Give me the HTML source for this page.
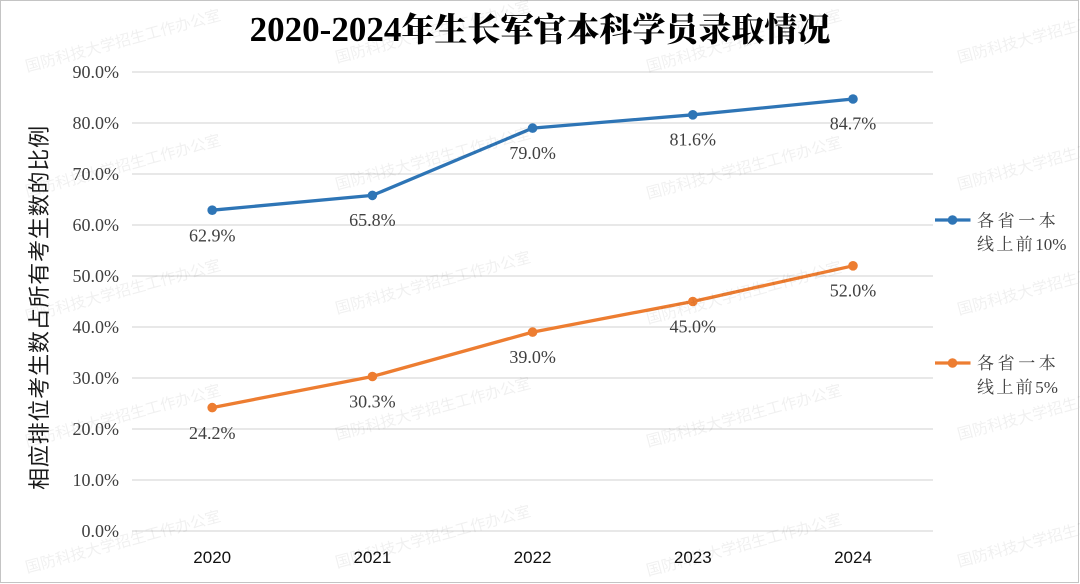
<!DOCTYPE html>
<html>
<head>
<meta charset="utf-8">
<style>
  html, body { margin: 0; padding: 0; background: #ffffff; }
  svg { display: block; }
</style>
</head>
<body>
<svg width="1080" height="584" viewBox="0 0 1080 584" xmlns="http://www.w3.org/2000/svg">
  <rect x="0" y="0" width="1080" height="584" fill="#ffffff"/>
  <rect x="0.5" y="0.5" width="1078" height="582" fill="none" stroke="#c4c4c4" stroke-width="1"/>

  <!-- Title -->
  <text x="540" y="41" text-anchor="middle" font-weight="bold" fill="#000000" font-family="'Liberation Serif', 'Noto Serif CJK SC', serif"><tspan font-size="35">2020-2024</tspan><tspan font-size="33" font-family="'Noto Serif CJK SC', serif" font-weight="900">年生长军官本科学员录取情况</tspan></text>

  <!-- Gridlines -->
  <g stroke="#d9d9d9" stroke-width="1.3">
    <line x1="132" y1="72" x2="933" y2="72"/>
    <line x1="132" y1="123" x2="933" y2="123"/>
    <line x1="132" y1="174" x2="933" y2="174"/>
    <line x1="132" y1="225" x2="933" y2="225"/>
    <line x1="132" y1="276" x2="933" y2="276"/>
    <line x1="132" y1="327" x2="933" y2="327"/>
    <line x1="132" y1="378" x2="933" y2="378"/>
    <line x1="132" y1="429" x2="933" y2="429"/>
    <line x1="132" y1="480" x2="933" y2="480"/>
    <line x1="132" y1="531" x2="933" y2="531"/>
  </g>

  <!-- Y tick labels -->
  <g font-family="'Liberation Serif', 'Noto Serif CJK SC', serif" font-size="18" fill="#404040" text-anchor="end">
    <text x="119" y="78">90.0%</text>
    <text x="119" y="129">80.0%</text>
    <text x="119" y="180">70.0%</text>
    <text x="119" y="231">60.0%</text>
    <text x="119" y="282">50.0%</text>
    <text x="119" y="333">40.0%</text>
    <text x="119" y="384">30.0%</text>
    <text x="119" y="435">20.0%</text>
    <text x="119" y="486">10.0%</text>
    <text x="119" y="537">0.0%</text>
  </g>

  <!-- Y axis title -->
  <text transform="translate(38,307.5) rotate(-90)" text-anchor="middle" dominant-baseline="central" font-family="'Noto Sans CJK SC', 'WenQuanYi Zen Hei', sans-serif" font-size="22" letter-spacing="0.8" fill="#1a1a1a">相应排位考生数占所有考生数的比例</text>

  <!-- X labels -->
  <g font-family="'Liberation Sans', sans-serif" font-size="17" fill="#111111" text-anchor="middle">
    <text x="212.2" y="563">2020</text>
    <text x="372.4" y="563">2021</text>
    <text x="532.6" y="563">2022</text>
    <text x="692.8" y="563">2023</text>
    <text x="853" y="563">2024</text>
  </g>

  <!-- Blue series -->
  <polyline points="212.2,210.2 372.4,195.4 532.6,128.1 692.8,114.8 853,99" fill="none" stroke="#2E75B6" stroke-width="3.3" stroke-linejoin="round" stroke-linecap="round"/>
  <g fill="#2E75B6">
    <circle cx="212.2" cy="210.2" r="4.8"/>
    <circle cx="372.4" cy="195.4" r="4.8"/>
    <circle cx="532.6" cy="128.1" r="4.8"/>
    <circle cx="692.8" cy="114.8" r="4.8"/>
    <circle cx="853" cy="99" r="4.8"/>
  </g>

  <!-- Orange series -->
  <polyline points="212.2,407.6 372.4,376.5 532.6,332.1 692.8,301.5 853,265.8" fill="none" stroke="#ED7D31" stroke-width="3.3" stroke-linejoin="round" stroke-linecap="round"/>
  <g fill="#ED7D31">
    <circle cx="212.2" cy="407.6" r="4.8"/>
    <circle cx="372.4" cy="376.5" r="4.8"/>
    <circle cx="532.6" cy="332.1" r="4.8"/>
    <circle cx="692.8" cy="301.5" r="4.8"/>
    <circle cx="853" cy="265.8" r="4.8"/>
  </g>

  <!-- Data labels -->
  <g font-family="'Liberation Serif', 'Noto Serif CJK SC', serif" font-size="18" fill="#404040" text-anchor="middle">
    <text x="212.2" y="241.5">62.9%</text>
    <text x="372.4" y="226">65.8%</text>
    <text x="532.6" y="159">79.0%</text>
    <text x="692.8" y="145.5">81.6%</text>
    <text x="853" y="129.5">84.7%</text>
    <text x="212.2" y="439">24.2%</text>
    <text x="372.4" y="407.5">30.3%</text>
    <text x="532.6" y="363">39.0%</text>
    <text x="692.8" y="332.5">45.0%</text>
    <text x="853" y="296.5">52.0%</text>
  </g>

  <!-- Legend -->
  <line x1="935" y1="220" x2="970.5" y2="220" stroke="#2E75B6" stroke-width="3.3"/>
  <circle cx="952.5" cy="220" r="4.8" fill="#2E75B6"/>
  <line x1="935" y1="363" x2="970.5" y2="363" stroke="#ED7D31" stroke-width="3.3"/>
  <circle cx="952.5" cy="363" r="4.8" fill="#ED7D31"/>
  <g font-size="17" fill="#404040" font-family="'Noto Serif CJK SC', serif">
    <text x="977" y="226.5" letter-spacing="3.6">各省一本</text>
    <text x="977" y="250"><tspan letter-spacing="2.4">线上前</tspan><tspan font-family="'Liberation Serif', serif">10%</tspan></text>
    <text x="977" y="369" letter-spacing="3.6">各省一本</text>
    <text x="977" y="393"><tspan letter-spacing="2.4">线上前</tspan><tspan font-family="'Liberation Serif', serif">5%</tspan></text>
  </g>

  <!-- Watermarks -->
  <g font-family="'Noto Sans CJK SC', 'WenQuanYi Zen Hei', sans-serif" font-size="15.5" fill="#000000" fill-opacity="0.06">
    <text transform="translate(27,72) rotate(-15)">国防科技大学招生工作办公室</text>
    <text transform="translate(27,197) rotate(-15)">国防科技大学招生工作办公室</text>
    <text transform="translate(27,322) rotate(-15)">国防科技大学招生工作办公室</text>
    <text transform="translate(27,447) rotate(-15)">国防科技大学招生工作办公室</text>
    <text transform="translate(27,573) rotate(-15)">国防科技大学招生工作办公室</text>

    <text transform="translate(337,63) rotate(-15)">国防科技大学招生工作办公室</text>
    <text transform="translate(337,190) rotate(-15)">国防科技大学招生工作办公室</text>
    <text transform="translate(337,314) rotate(-15)">国防科技大学招生工作办公室</text>
    <text transform="translate(337,440) rotate(-15)">国防科技大学招生工作办公室</text>
    <text transform="translate(337,568) rotate(-15)">国防科技大学招生工作办公室</text>

    <text transform="translate(648,72) rotate(-15)">国防科技大学招生工作办公室</text>
    <text transform="translate(648,199) rotate(-15)">国防科技大学招生工作办公室</text>
    <text transform="translate(648,324) rotate(-15)">国防科技大学招生工作办公室</text>
    <text transform="translate(648,447) rotate(-15)">国防科技大学招生工作办公室</text>
    <text transform="translate(648,576) rotate(-15)">国防科技大学招生工作办公室</text>

    <text transform="translate(959,63) rotate(-15)">国防科技大学招生工作办公室</text>
    <text transform="translate(959,190) rotate(-15)">国防科技大学招生工作办公室</text>
    <text transform="translate(959,315) rotate(-15)">国防科技大学招生工作办公室</text>
    <text transform="translate(959,440) rotate(-15)">国防科技大学招生工作办公室</text>
    <text transform="translate(959,567) rotate(-15)">国防科技大学招生工作办公室</text>
  </g>
</svg>
</body>
</html>
